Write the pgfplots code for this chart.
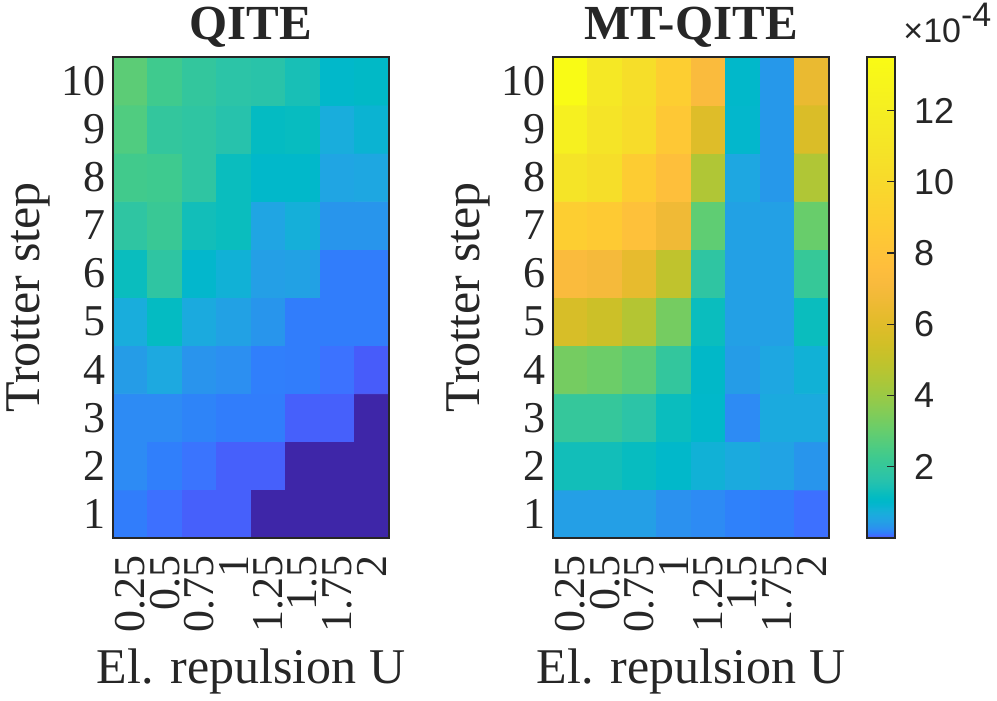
\documentclass[border=0pt]{standalone}
\usepackage{fontspec}
\setmainfont{Liberation Serif}
\setsansfont{Liberation Sans}
\usepackage{pgfplots}
\usepackage{pgfplotstable}
\pgfplotsset{compat=1.18}
\definecolor{mtext}{rgb}{0.15,0.15,0.15}

\pgfplotsset{colormap={parulap}{
rgb(0pt)=(0.2422,0.1504,0.6603); rgb(0.01pt)=(0.2504,0.1650,0.7076); rgb(0.1014pt)=(0.2578,0.1818,0.7511);
rgb(0.392pt)=(0.2647,0.1978,0.7952); rgb(1.022pt)=(0.2706,0.2147,0.8364); rgb(2.150pt)=(0.2751,0.2342,0.8710);
rgb(3.947pt)=(0.2783,0.2559,0.8991); rgb(6.597pt)=(0.2803,0.2782,0.9221); rgb(10.30pt)=(0.2813,0.3006,0.9414);
rgb(15.25pt)=(0.2810,0.3228,0.9579); rgb(21.66pt)=(0.2795,0.3447,0.9717); rgb(29.76pt)=(0.2760,0.3667,0.9829);
rgb(39.77pt)=(0.2699,0.3892,0.9906); rgb(51.93pt)=(0.2602,0.4123,0.9952); rgb(66.47pt)=(0.2440,0.4358,0.9988);
rgb(83.66pt)=(0.2206,0.4603,0.9973); rgb(103.74pt)=(0.1963,0.4847,0.9892); rgb(126.97pt)=(0.1834,0.5074,0.9798);
rgb(153.62pt)=(0.1786,0.5289,0.9682); rgb(183.94pt)=(0.1764,0.5499,0.9520); rgb(218.23pt)=(0.1687,0.5703,0.9359);
rgb(256.73pt)=(0.1540,0.5902,0.9218); rgb(299.8pt)=(0.1460,0.6091,0.9079); rgb(347.7pt)=(0.1380,0.6276,0.8973);
rgb(400.7pt)=(0.1248,0.6459,0.8883); rgb(459.1pt)=(0.1113,0.6635,0.8763); rgb(523.3pt)=(0.0952,0.6798,0.8598);
rgb(593.5pt)=(0.0689,0.6948,0.8394); rgb(670.0pt)=(0.0297,0.7082,0.8163); rgb(753.2pt)=(0.0036,0.7203,0.7917);
rgb(843.3pt)=(0.0067,0.7312,0.7660); rgb(940.7pt)=(0.0433,0.7411,0.7394); rgb(1045.8pt)=(0.0964,0.7500,0.7120);
rgb(1158.7pt)=(0.1408,0.7584,0.6842); rgb(1279.9pt)=(0.1717,0.7670,0.6554); rgb(1409.6pt)=(0.1938,0.7758,0.6251);
rgb(1548.4pt)=(0.2161,0.7843,0.5923); rgb(1696.3pt)=(0.2470,0.7918,0.5567); rgb(1854.0pt)=(0.2906,0.7973,0.5188);
rgb(2021.8pt)=(0.3406,0.8008,0.4789); rgb(2199.9pt)=(0.3909,0.8029,0.4354); rgb(2388.7pt)=(0.4456,0.8024,0.3909);
rgb(2588.6pt)=(0.5044,0.7993,0.3480); rgb(2800.0pt)=(0.5616,0.7942,0.3045); rgb(3022.7pt)=(0.6174,0.7876,0.2612);
rgb(3257.9pt)=(0.6720,0.7793,0.2227); rgb(3505.6pt)=(0.7242,0.7698,0.1910); rgb(3766.1pt)=(0.7738,0.7598,0.1646);
rgb(4039.8pt)=(0.8203,0.7498,0.1535); rgb(4327.0pt)=(0.8634,0.7406,0.1596); rgb(4628.5pt)=(0.9035,0.7330,0.1774);
rgb(4944.4pt)=(0.9393,0.7288,0.2100); rgb(5274.8pt)=(0.9728,0.7298,0.2394); rgb(5620.9pt)=(0.9956,0.7434,0.2371);
rgb(5982.2pt)=(0.9970,0.7659,0.2199); rgb(6359.1pt)=(0.9952,0.7893,0.2028); rgb(6753.2pt)=(0.9892,0.8136,0.1885);
rgb(7163.7pt)=(0.9786,0.8386,0.1766); rgb(7591.1pt)=(0.9676,0.8639,0.1643); rgb(8036.4pt)=(0.9610,0.8890,0.1537);
rgb(8499.3pt)=(0.9597,0.9135,0.1423); rgb(8980.8pt)=(0.9628,0.9373,0.1265); rgb(9480.6pt)=(0.9691,0.9606,0.1064);
rgb(10000pt)=(0.9769,0.9839,0.0805)}}

% QITE, values in units of 1e-4
\pgfplotstableread{
x y c
1 1 0.15
2 1 0.094
3 1 0.045
4 1 0.045
5 1 0
6 1 0
7 1 0
8 1 0
1 2 0.24
2 2 0.16
3 2 0.108
4 2 0.045
5 2 0.045
6 2 0
7 2 0
8 2 0
1 3 0.24
2 3 0.24
3 3 0.19
4 3 0.15
5 3 0.15
6 3 0.045
7 3 0.045
8 3 0
1 4 0.41
2 4 0.61
3 4 0.32
4 4 0.27
5 4 0.16
6 4 0.15
7 4 0.10
8 4 0.037
1 5 0.69
2 5 1.17
3 5 0.64
4 5 0.49
5 5 0.335
6 5 0.15
7 5 0.15
8 5 0.15
1 6 1.25
2 6 1.84
3 6 0.98
4 6 0.81
5 6 0.45
6 6 0.49
7 6 0.15
8 6 0.15
1 7 1.84
2 7 2.13
3 7 1.34
4 7 1.25
5 7 0.54
6 7 0.75
7 7 0.335
8 7 0.335
1 8 2.33
2 8 2.26
3 8 1.84
4 8 1.25
5 8 1.02
6 8 1.02
7 8 0.54
8 8 0.585
1 9 2.60
2 9 1.95
3 9 1.84
4 9 1.63
5 9 1.17
6 9 1.21
7 9 0.69
8 9 0.87
1 10 2.82
2 10 2.29
3 10 1.95
4 10 1.73
5 10 1.68
6 10 1.41
7 10 1.02
8 10 1.09
}\qite

% MT-QITE, values in units of 1e-4
\pgfplotstableread{
x y c
1 1 0.45
2 1 0.45
3 1 0.45
4 1 0.29
5 1 0.24
6 1 0.17
7 1 0.15
8 1 0.094
1 2 1.34
2 2 1.34
3 2 1.21
4 2 1.02
5 2 0.81
6 2 0.64
7 2 0.51
8 2 0.335
1 3 2.01
2 3 2.01
3 3 1.73
4 3 1.25
5 3 1.02
6 3 0.24
7 3 0.64
8 3 0.64
1 4 3.29
2 4 3.13
3 4 2.82
4 4 1.95
5 4 1.05
6 4 0.41
7 4 0.585
8 4 0.81
1 5 5.65
2 5 5.29
3 5 4.62
4 5 3.29
5 5 1.25
6 5 0.47
7 5 0.47
8 5 1.25
1 6 7.25
2 6 6.97
3 6 6.28
4 6 4.95
5 6 1.84
6 6 0.47
7 6 0.47
8 6 2.07
1 7 8.98
2 7 8.65
3 7 7.85
4 7 6.69
5 7 2.89
6 7 0.49
7 7 0.47
8 7 3.05
1 8 10.98
2 8 10.41
3 8 8.82
4 8 7.70
5 8 4.52
6 8 0.585
7 8 0.37
8 8 4.52
1 9 12.20
2 9 10.98
3 9 10.22
4 9 8.49
5 9 5.90
6 9 0.98
7 9 0.37
8 9 5.77
1 10 13.50
2 10 11.38
3 10 10.41
4 10 8.98
5 10 7.25
6 10 1.02
7 10 0.37
8 10 6.42
}\mtqite

\pgfplotsset{hm/.style={
  scale only axis, width=138pt, height=240.5pt, anchor=south west,
  xmin=0.5, xmax=8.5, ymin=0.5, ymax=10.5,
  xtick={1,...,8}, xticklabels={0.25,0.5,0.75,1,1.25,1.5,1.75,2},
  ytick={1,...,10},
  major tick length=0pt, tick style={draw=none},
  axis line style={mtext, line width=0.6pt},
  /pgf/number format/assume math mode=true,
  tick label style={font=\fontsize{22}{24}\selectfont, text=mtext},
  xticklabel style={rotate=90, anchor=east},
  xticklabel shift=5pt,
  label style={font=\fontsize{25}{27}\selectfont, text=mtext},
  xlabel={El. repulsion U}, ylabel={Trotter step},
  xlabel style={at={(0.5,-0.3015)}, anchor=base},
  ylabel style={at={(-0.2681,0.5)}, anchor=base},
  title style={at={(0.5,1.0104)}, anchor=base, font=\fontsize{24.5}{26}\selectfont\bfseries, text=mtext},
  colormap name=parulap, point meta min=0, point meta max=13.5,
  axis on top,
}}

\begin{document}
\begin{tikzpicture}
\begin{axis}[hm, at={(56.5pt,81.5pt)}, title={QITE}]
\addplot[matrix plot*, point meta=explicit, mesh/cols=8] table[x=x, y=y, meta=c] {\qite};
\end{axis}
\begin{axis}[hm, at={(276.5pt,81.5pt)}, title={MT-QITE},
  colorbar,
  colorbar style={
    at={(parent axis.north east)}, anchor=north west, xshift=10.5pt,
    width=14pt,
    ytick={2,4,...,12},
    ytick pos=right,
    tick align=inside,
    major tick length=4pt,
    tick style={mtext, line width=0.6pt},
    axis line style={mtext, line width=0.6pt},
    /pgf/number format/assume math mode=true,
    yticklabel style={font=\fontsize{18}{20}\sffamily, text=mtext, xshift=6pt},
  }]
\addplot[matrix plot*, point meta=explicit, mesh/cols=8] table[x=x, y=y, meta=c] {\mtqite};
\end{axis}
\node[anchor=base west, text=mtext, font=\fontsize{17}{19}\sffamily, inner sep=0pt] at (451.5pt,329pt) {×10\raisebox{8.3pt}{-4}};
\pgfresetboundingbox
\path[use as bounding box] (0,0) rectangle (498.5pt,350.5pt);
\end{tikzpicture}
\end{document}
